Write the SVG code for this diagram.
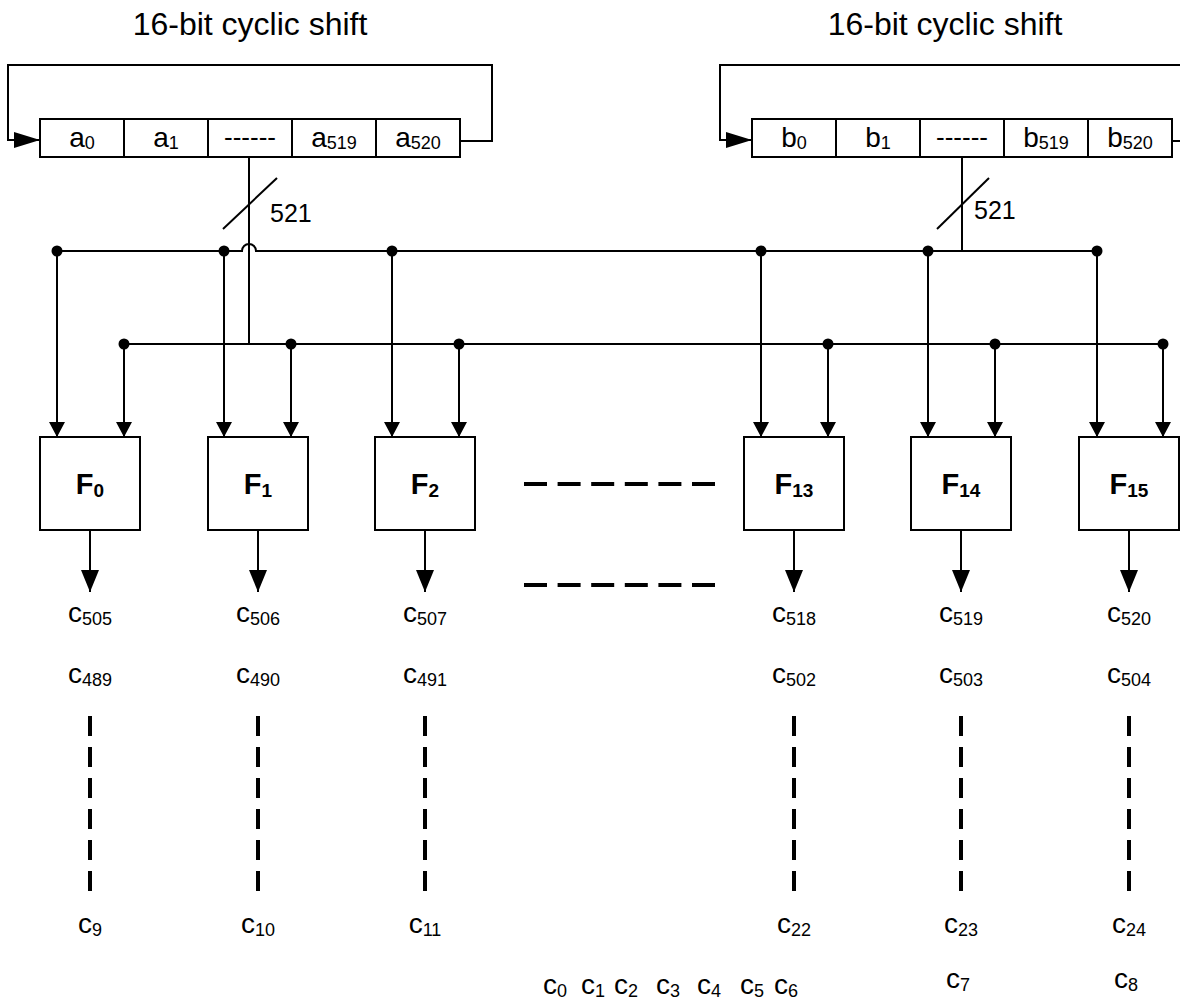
<svg xmlns="http://www.w3.org/2000/svg" width="1180" height="1000" viewBox="0 0 1180 1000">
<style>
text{font-family:"Liberation Sans",Arial,sans-serif;fill:#000}
.title{font-size:32px}
.reg{font-size:28px}
.sub{font-size:18px}
.lbl{font-size:28px}
.dash{font-size:26px}
.num{font-size:25px}
.fl{font-size:29px;font-weight:bold}
.fs{font-size:19px;font-weight:bold}
.ln{stroke:#000;stroke-width:2;fill:none}
.box{stroke:#000;stroke-width:2;fill:#fff}
.vd{stroke:#000;stroke-width:4;fill:none;stroke-dasharray:20 11}
.hd{stroke:#000;stroke-width:4;fill:none;stroke-dasharray:23 10.6}
</style>
<defs>
<marker id="ahReg" markerWidth="26" markerHeight="16" refX="26" refY="8" orient="auto" markerUnits="userSpaceOnUse"><path d="M0,0 L26,8 L0,16 Z" fill="#000"/></marker>
<marker id="ahIn" markerWidth="15" markerHeight="16" refX="15" refY="8" orient="auto" markerUnits="userSpaceOnUse"><path d="M0,0 L15,8 L0,16 Z" fill="#000"/></marker>
<marker id="ahOut" markerWidth="22" markerHeight="18" refX="22" refY="9" orient="auto" markerUnits="userSpaceOnUse"><path d="M0,0 L22,9 L0,18 Z" fill="#000"/></marker>
</defs>
<rect width="1180" height="1000" fill="#fff"/>

<text class="title" x="250" y="35" text-anchor="middle">16-bit cyclic shift</text>
<text class="title" x="945" y="35" text-anchor="middle">16-bit cyclic shift</text>

<g id="regA">
<rect class="box" x="40" y="119" width="420" height="38"/>
<path class="ln" d="M124,119V157M208,119V157M292,119V157M376,119V157"/>
<text class="reg" x="82" y="147" text-anchor="middle">a<tspan class="sub" dy="2">0</tspan></text>
<text class="reg" x="166" y="147" text-anchor="middle">a<tspan class="sub" dy="2">1</tspan></text>
<text class="dash" x="250" y="146" text-anchor="middle">------</text>
<text class="reg" x="334" y="147" text-anchor="middle">a<tspan class="sub" dy="2">519</tspan></text>
<text class="reg" x="418" y="147" text-anchor="middle">a<tspan class="sub" dy="2">520</tspan></text>
</g>
<g id="regB">
<rect class="box" x="752" y="119" width="420" height="38"/>
<path class="ln" d="M836,119V157M920,119V157M1004,119V157M1088,119V157"/>
<text class="reg" x="794" y="147" text-anchor="middle">b<tspan class="sub" dy="2">0</tspan></text>
<text class="reg" x="878" y="147" text-anchor="middle">b<tspan class="sub" dy="2">1</tspan></text>
<text class="dash" x="962" y="146" text-anchor="middle">------</text>
<text class="reg" x="1046" y="147" text-anchor="middle">b<tspan class="sub" dy="2">519</tspan></text>
<text class="reg" x="1130" y="147" text-anchor="middle">b<tspan class="sub" dy="2">520</tspan></text>
</g>

<g id="F0"><rect class="box" x="40" y="437" width="100" height="93"/><text class="fl" x="90" y="494" text-anchor="middle">F<tspan class="fs" dy="3">0</tspan></text></g>
<g id="F1"><rect class="box" x="208" y="437" width="100" height="93"/><text class="fl" x="258" y="494" text-anchor="middle">F<tspan class="fs" dy="3">1</tspan></text></g>
<g id="F2"><rect class="box" x="375" y="437" width="100" height="93"/><text class="fl" x="425" y="494" text-anchor="middle">F<tspan class="fs" dy="3">2</tspan></text></g>
<g id="F13"><rect class="box" x="744" y="437" width="100" height="93"/><text class="fl" x="794" y="494" text-anchor="middle">F<tspan class="fs" dy="3">13</tspan></text></g>
<g id="F14"><rect class="box" x="911" y="437" width="100" height="93"/><text class="fl" x="961" y="494" text-anchor="middle">F<tspan class="fs" dy="3">14</tspan></text></g>
<g id="F15"><rect class="box" x="1079" y="437" width="100" height="93"/><text class="fl" x="1129" y="494" text-anchor="middle">F<tspan class="fs" dy="3">15</tspan></text></g>

<g id="connectors">
<path class="ln" d="M460,141H492V65H8V140H40" marker-end="url(#ahReg)"/>
<path class="ln" d="M1172,141H1192V65H720V140H752" marker-end="url(#ahReg)"/>
<path class="ln" d="M249,157V344H256"/>
<path class="ln" d="M962,157V251"/>
<path class="ln" d="M223,229L277,178"/>
<path class="ln" d="M937,229L989,178"/>
<path class="ln" d="M57,251H242A7,7 0 0 1 256,251H1097"/>
<path class="ln" d="M124,344H1163"/>
<g fill="#000">
<circle cx="57" cy="251" r="5.5"/><circle cx="224" cy="251" r="5.5"/><circle cx="392" cy="251" r="5.5"/>
<circle cx="761" cy="251" r="5.5"/><circle cx="928" cy="251" r="5.5"/><circle cx="1097" cy="251" r="5.5"/>
<circle cx="124" cy="344" r="5.5"/><circle cx="291" cy="344" r="5.5"/><circle cx="459" cy="344" r="5.5"/>
<circle cx="828" cy="344" r="5.5"/><circle cx="995" cy="344" r="5.5"/><circle cx="1163" cy="344" r="5.5"/>
</g>
<path class="ln" d="M57,251V437" marker-end="url(#ahIn)"/>
<path class="ln" d="M224,251V437" marker-end="url(#ahIn)"/>
<path class="ln" d="M392,251V437" marker-end="url(#ahIn)"/>
<path class="ln" d="M761,251V437" marker-end="url(#ahIn)"/>
<path class="ln" d="M928,251V437" marker-end="url(#ahIn)"/>
<path class="ln" d="M1097,251V437" marker-end="url(#ahIn)"/>
<path class="ln" d="M124,344V437" marker-end="url(#ahIn)"/>
<path class="ln" d="M291,344V437" marker-end="url(#ahIn)"/>
<path class="ln" d="M459,344V437" marker-end="url(#ahIn)"/>
<path class="ln" d="M828,344V437" marker-end="url(#ahIn)"/>
<path class="ln" d="M995,344V437" marker-end="url(#ahIn)"/>
<path class="ln" d="M1163,344V437" marker-end="url(#ahIn)"/>
<path class="ln" d="M90,530V592" marker-end="url(#ahOut)"/>
<path class="ln" d="M258,530V592" marker-end="url(#ahOut)"/>
<path class="ln" d="M425,530V592" marker-end="url(#ahOut)"/>
<path class="ln" d="M794,530V592" marker-end="url(#ahOut)"/>
<path class="ln" d="M961,530V592" marker-end="url(#ahOut)"/>
<path class="ln" d="M1129,530V592" marker-end="url(#ahOut)"/>
<path class="hd" d="M524,484H716M524,585H716"/>
<path class="vd" d="M90,716V893M258,716V893M425,716V893M794,716V893M961,716V893M1129,716V893"/>
</g>

<text class="num" x="270" y="222">521</text>
<text class="num" x="974" y="219">521</text>

<g id="labels">
<text class="lbl" x="90" y="622" text-anchor="middle">c<tspan class="sub" dy="3">505</tspan></text>
<text class="lbl" x="258" y="622" text-anchor="middle">c<tspan class="sub" dy="3">506</tspan></text>
<text class="lbl" x="425" y="622" text-anchor="middle">c<tspan class="sub" dy="3">507</tspan></text>
<text class="lbl" x="794" y="622" text-anchor="middle">c<tspan class="sub" dy="3">518</tspan></text>
<text class="lbl" x="961" y="622" text-anchor="middle">c<tspan class="sub" dy="3">519</tspan></text>
<text class="lbl" x="1129" y="622" text-anchor="middle">c<tspan class="sub" dy="3">520</tspan></text>

<text class="lbl" x="90" y="683" text-anchor="middle">c<tspan class="sub" dy="3">489</tspan></text>
<text class="lbl" x="258" y="683" text-anchor="middle">c<tspan class="sub" dy="3">490</tspan></text>
<text class="lbl" x="425" y="683" text-anchor="middle">c<tspan class="sub" dy="3">491</tspan></text>
<text class="lbl" x="794" y="683" text-anchor="middle">c<tspan class="sub" dy="3">502</tspan></text>
<text class="lbl" x="961" y="683" text-anchor="middle">c<tspan class="sub" dy="3">503</tspan></text>
<text class="lbl" x="1129" y="683" text-anchor="middle">c<tspan class="sub" dy="3">504</tspan></text>

<text class="lbl" x="90" y="933" text-anchor="middle">c<tspan class="sub" dy="3">9</tspan></text>
<text class="lbl" x="258" y="933" text-anchor="middle">c<tspan class="sub" dy="3">10</tspan></text>
<text class="lbl" x="425" y="933" text-anchor="middle">c<tspan class="sub" dy="3">11</tspan></text>
<text class="lbl" x="794" y="933" text-anchor="middle">c<tspan class="sub" dy="3">22</tspan></text>
<text class="lbl" x="961" y="933" text-anchor="middle">c<tspan class="sub" dy="3">23</tspan></text>
<text class="lbl" x="1129" y="933" text-anchor="middle">c<tspan class="sub" dy="3">24</tspan></text>

<text class="lbl" x="958" y="988" text-anchor="middle">c<tspan class="sub" dy="3">7</tspan></text>
<text class="lbl" x="1126" y="988" text-anchor="middle">c<tspan class="sub" dy="3">8</tspan></text>

<text class="lbl" x="543" y="994">c<tspan class="sub" dy="3">0</tspan></text>
<text class="lbl" x="581" y="994">c<tspan class="sub" dy="3">1</tspan></text>
<text class="lbl" x="614" y="994">c<tspan class="sub" dy="3">2</tspan></text>
<text class="lbl" x="656" y="994">c<tspan class="sub" dy="3">3</tspan></text>
<text class="lbl" x="697" y="994">c<tspan class="sub" dy="3">4</tspan></text>
<text class="lbl" x="740" y="994">c<tspan class="sub" dy="3">5</tspan></text>
<text class="lbl" x="774" y="994">c<tspan class="sub" dy="3">6</tspan></text>
</g>
</svg>
